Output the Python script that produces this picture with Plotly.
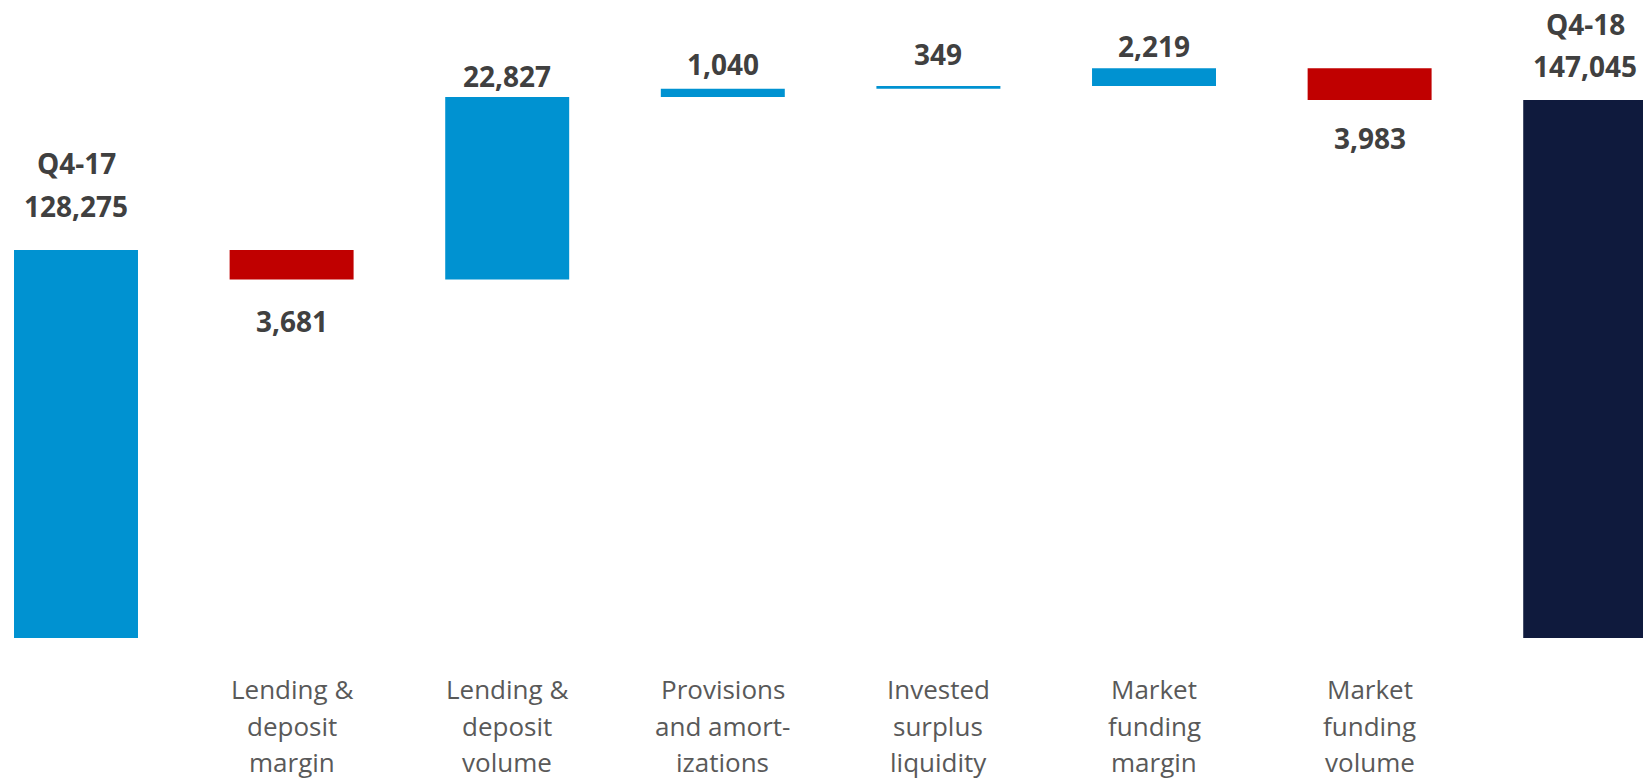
import plotly.graph_objects as go

# ---- data ----
categories = ["Q4-17", "Lending & deposit margin", "Lending & deposit volume",
              "Provisions and amortizations", "Invested surplus liquidity",
              "Market funding margin", "Market funding volume", "Q4-18"]
axis_labels = ["", "Lending &<br>deposit<br>margin", "Lending &<br>deposit<br>volume",
               "Provisions<br>and amort-<br>izations", "Invested<br>surplus<br>liquidity",
               "Market<br>funding<br>margin", "Market<br>funding<br>volume", ""]
start_value = 128275
changes = [-3681, 22827, 1040, 349, 2219, -3983]
end_value = 147045
total_titles = ["Q4-17", "Q4-18"]

# ---- styles ----
BLUE = "#0092D1"
RED = "#C00000"
NAVY = "#0F1A3D"
VALUE_COLOR = "#404040"
CAT_COLOR = "#595959"
FONT = "Open Sans"
# pixel offsets of value labels from the bar end they belong to
value_shift = [44, -42, 21, 25, 32, 22, -38, 34]
title_shift = [87, 76]

# ---- build bars ----
bases, heights, colors, label_anchor = [], [], [], []
bases.append(0); heights.append(start_value); colors.append(BLUE); label_anchor.append(start_value)
running = start_value
for d in changes:
    new = running + d
    bases.append(min(running, new))
    heights.append(abs(d))
    colors.append(BLUE if d >= 0 else RED)
    label_anchor.append(new)  # top for rises, bottom for falls
    running = new
bases.append(0); heights.append(end_value); colors.append(NAVY); label_anchor.append(end_value)

value_texts = [f"{start_value:,}"] + [f"{abs(d):,}" for d in changes] + [f"{end_value:,}"]

fig = go.Figure()
fig.add_trace(go.Bar(
    x=categories, y=heights, base=bases,
    marker=dict(color=colors, line=dict(width=0)),
    width=0.575, hoverinfo="skip", showlegend=False,
))

annotations = []
for i, cat in enumerate(categories):
    annotations.append(dict(
        x=cat, y=label_anchor[i], xref="x", yref="y",
        text=value_texts[i], showarrow=False, yanchor="middle", xanchor="center",
        yshift=value_shift[i],
        font=dict(family=FONT, size=28, color=VALUE_COLOR, weight=700),
    ))
for j, idx in enumerate([0, len(categories) - 1]):
    annotations.append(dict(
        x=categories[idx], y=label_anchor[idx], xref="x", yref="y",
        text=total_titles[j], showarrow=False, yanchor="middle", xanchor="center",
        yshift=title_shift[j],
        font=dict(family=FONT, size=28, color=VALUE_COLOR, weight=700),
    ))
line_shifts = [-51, -88, -124]
for i, cat in enumerate(categories):
    if not axis_labels[i]:
        continue
    for k, line in enumerate(axis_labels[i].split("<br>")):
        annotations.append(dict(
            x=cat, y=0, xref="x", yref="paper",
            text=line, showarrow=False, yanchor="middle", xanchor="center",
            yshift=line_shifts[k], borderpad=0,
            font=dict(family=FONT, size=26, color=CAT_COLOR),
        ))

fig.update_layout(
    width=1643, height=782,
    margin=dict(l=0, r=0, t=0, b=144),
    paper_bgcolor="white", plot_bgcolor="white",
    annotations=annotations,
    xaxis=dict(type="category", range=[-0.3525, 7.268], showticklabels=False,
               showgrid=False, zeroline=False, showline=False, ticks=""),
    yaxis=dict(range=[79724, 159559], showticklabels=False, showgrid=False,
               zeroline=False, showline=False, ticks=""),
    font=dict(family=FONT),
)

fig.write_html("out.html", config={"displayModeBar": False},
               post_script="document.body.style.margin='0';document.body.style.overflow='hidden';")
